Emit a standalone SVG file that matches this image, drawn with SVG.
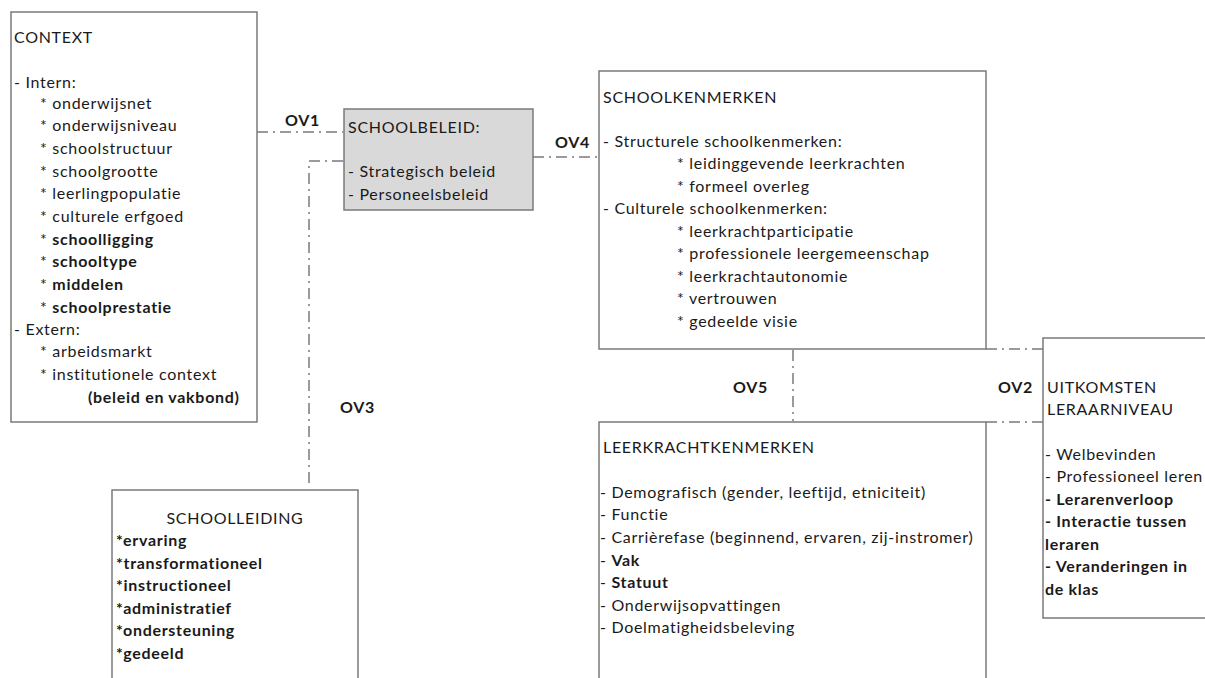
<svg xmlns="http://www.w3.org/2000/svg" width="1205" height="678" viewBox="0 0 1205 678">
<style>
text{font-family:Lato,"Open Sans","Liberation Sans",sans-serif;font-size:16px;letter-spacing:0.7px;fill:#1a1a1a}
.b{font-weight:bold}
.box{fill:#fff;stroke:#7a7a7a;stroke-width:1.5}
.gray{fill:#d9d9d9}
.con{fill:none;stroke:#7a7a7a;stroke-width:1.5;stroke-dasharray:11 5 2 5}
</style>
<rect width="1205" height="678" fill="#fff"/>
<g id="connectors">
<path class="con" d="M257 132H343"/>
<path class="con" d="M343 161H309V488"/>
<path class="con" d="M533 157H599"/>
<path class="con" d="M793 350V421"/>
<path class="con" d="M986 349H1043"/>
<path class="con" d="M986 422H1043"/>
<text class="b" x="285" y="126">OV1</text>
<text class="b" x="555" y="148">OV4</text>
<text class="b" x="340" y="413">OV3</text>
<text class="b" x="926" y="170">OV3</text>
<text class="b" x="733" y="393">OV5</text>
<text class="b" x="998" y="393">OV2</text>
</g>
<g id="context">
<rect class="box" x="11" y="12" width="246" height="410"/>
<text x="14" y="43">CONTEXT</text>
<text x="14" y="88">- Intern:</text>
<text x="40" y="109">* onderwijsnet</text>
<text x="40" y="131">* onderwijsniveau</text>
<text x="40" y="154">* schoolstructuur</text>
<text x="40" y="177">* schoolgrootte</text>
<text x="40" y="199">* leerlingpopulatie</text>
<text x="40" y="222">* culturele erfgoed</text>
<text x="40" y="245">* <tspan class="b">schoolligging</tspan></text>
<text x="40" y="267">* <tspan class="b">schooltype</tspan></text>
<text x="40" y="290">* <tspan class="b">middelen</tspan></text>
<text x="40" y="313">* <tspan class="b">schoolprestatie</tspan></text>
<text x="14" y="335">- Extern:</text>
<text x="40" y="357">* arbeidsmarkt</text>
<text x="40" y="380">* institutionele context</text>
<text class="b" x="88" y="403">(beleid en vakbond)</text>
</g>
<g id="schoolbeleid">
<rect class="box gray" x="344" y="109" width="189" height="101"/>
<text x="348" y="133">SCHOOLBELEID:</text>
<text x="348" y="177">- Strategisch beleid</text>
<text x="348" y="200">- Personeelsbeleid</text>
</g>
<g id="schoolkenmerken">
<rect class="box" x="599" y="71" width="387" height="278"/>
<text x="603" y="103">SCHOOLKENMERKEN</text>
<text x="603" y="147">- Structurele schoolkenmerken:</text>
<text x="677" y="169">* leidinggevende leerkrachten</text>
<text x="677" y="192">* formeel overleg</text>
<text x="603" y="214">- Culturele schoolkenmerken:</text>
<text x="677" y="237">* leerkrachtparticipatie</text>
<text x="677" y="259">* professionele leergemeenschap</text>
<text x="677" y="282">* leerkrachtautonomie</text>
<text x="677" y="304">* vertrouwen</text>
<text x="677" y="327">* gedeelde visie</text>
</g>
<g id="leerkrachtkenmerken">
<rect class="box" x="599" y="422" width="387" height="270"/>
<text x="603" y="453">LEERKRACHTKENMERKEN</text>
<text x="600" y="498">- Demografisch (gender, leeftijd, etniciteit)</text>
<text x="600" y="520">- Functie</text>
<text x="600" y="543">- Carrièrefase (beginnend, ervaren, zij-instromer)</text>
<text x="600" y="566">- <tspan class="b">Vak</tspan></text>
<text x="600" y="588">- <tspan class="b">Statuut</tspan></text>
<text x="600" y="611">- Onderwijsopvattingen</text>
<text x="600" y="633">- Doelmatigheidsbeleving</text>
</g>
<g id="uitkomsten">
<rect class="box" x="1043" y="338" width="180" height="280"/>
<text x="1047" y="393">UITKOMSTEN</text>
<text x="1047" y="415">LERAARNIVEAU</text>
<text x="1045" y="460">- Welbevinden</text>
<text x="1045" y="482">- Professioneel leren</text>
<text class="b" x="1045" y="505">- Lerarenverloop</text>
<text class="b" x="1045" y="527">- Interactie tussen</text>
<text class="b" x="1045" y="550">leraren</text>
<text class="b" x="1045" y="572">- Veranderingen in</text>
<text class="b" x="1045" y="595">de klas</text>
</g>
<g id="schoolleiding">
<rect class="box" x="112" y="490" width="246" height="200"/>
<text x="235" y="524" text-anchor="middle">SCHOOLLEIDING</text>
<text class="b" x="116" y="546">*ervaring</text>
<text class="b" x="116" y="569">*transformationeel</text>
<text class="b" x="116" y="591">*instructioneel</text>
<text class="b" x="116" y="614">*administratief</text>
<text class="b" x="116" y="636">*ondersteuning</text>
<text class="b" x="116" y="659">*gedeeld</text>
</g>
</svg>
